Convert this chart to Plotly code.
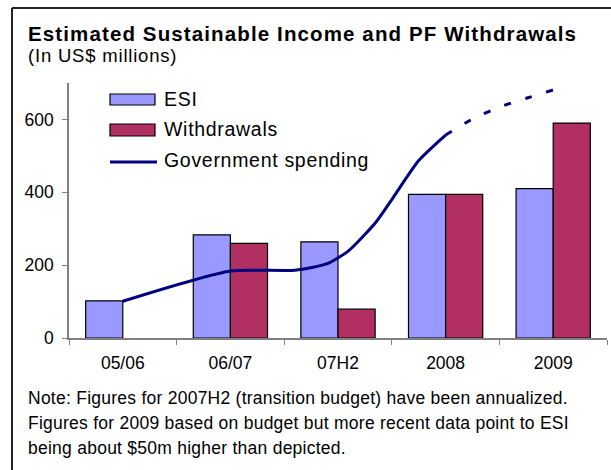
import plotly.graph_objects as go

# Periods and series values (US$ millions)
periods = ["05/06", "06/07", "07H2", "2008", "2009"]
esi = [102, 283, 264, 394, 410]
withdrawals = [None, 260, 79, 394, 590]

# Government spending, positioned along the period index (0 = 05/06)
gov_pos = [0.0, 1.0, 1.6, 1.9, 2.1, 2.35, 2.5, 2.75, 3.0]
gov_val = [101, 184, 186, 204, 240, 317, 380, 487, 557]
gov_proj_pos = [3.0, 3.25, 3.5, 3.75, 4.0]
gov_proj_val = [557, 601, 634, 658, 681]

y_ticks = [0, 200, 400, 600]

W, H = 611, 470
PX_L, PX_R, PX_T, PX_B = 69, 607, 83, 338
FONT = "Liberation Sans, Arial, sans-serif"
ESI_COLOR = "#9999FF"
WD_COLOR = "#B12F62"
GOV_COLOR = "#000080"


def px(x):
    return (x - PX_L) / (PX_R - PX_L)


def py(y):
    return (PX_B - y) / (PX_B - PX_T)


fig = go.Figure()
fig.add_trace(go.Bar(x=periods, y=esi, name="ESI", marker=dict(color=ESI_COLOR, line=dict(color="black", width=1.2))))
fig.add_trace(go.Bar(x=periods, y=withdrawals, name="Withdrawals", marker=dict(color=WD_COLOR, line=dict(color="black", width=1.2))))
fig.add_trace(go.Scatter(x=gov_pos, y=gov_val, xaxis="x2", mode="lines", name="Government spending",
                         line=dict(color=GOV_COLOR, width=3, shape="spline", smoothing=0.6)))
fig.add_trace(go.Scatter(x=gov_proj_pos, y=gov_proj_val, xaxis="x2", mode="lines", showlegend=False,
                         line=dict(color=GOV_COLOR, width=3, shape="spline", smoothing=0.6, dash="7px,15px")))

shapes = [
    # outer frame (left and top edges)
    dict(type="line", xref="paper", yref="paper", x0=px(12), x1=px(12), y0=py(8), y1=py(472),
         line=dict(color="#222", width=2)),
    dict(type="line", xref="paper", yref="paper", x0=px(12), x1=px(613), y0=py(8), y1=py(8),
         line=dict(color="#222", width=2)),
    # legend keys
    dict(type="rect", xref="paper", yref="paper", x0=px(110), x1=px(155), y0=py(94), y1=py(105),
         fillcolor=ESI_COLOR, line=dict(color="black", width=1.2)),
    dict(type="rect", xref="paper", yref="paper", x0=px(110), x1=px(155), y0=py(124), y1=py(136),
         fillcolor=WD_COLOR, line=dict(color="black", width=1.2)),
    dict(type="line", xref="paper", yref="paper", x0=px(110), x1=px(157), y0=py(162), y1=py(162),
         line=dict(color=GOV_COLOR, width=3)),
]


def label(text, x, y, size, bold=False, spacing=0.0):
    body = f'<span style="letter-spacing:{spacing}px">{text}</span>' if spacing else text
    if bold:
        body = f"<b>{body}</b>"
    return dict(text=body, xref="paper", yref="paper", x=px(x), y=py(y),
                xanchor="left", yanchor="middle", showarrow=False, font=dict(family=FONT, size=size, color="black"))


annotations = [
    label("Estimated Sustainable Income and PF Withdrawals", 26, 33, 20.5, bold=True, spacing=1.12),
    label("(In US$ millions)", 26, 56, 18.5, spacing=0.8),
    label("ESI", 162, 99, 19.5, spacing=0.7),
    label("Withdrawals", 162, 129, 19.5, spacing=0.7),
    label("Government spending", 162, 160, 19.5, spacing=0.7),
    label("Note: Figures for 2007H2 (transition budget) have been annualized.", 26, 398, 17.5, spacing=0.25),
    label("Figures for 2009 based on budget but more recent data point to ESI", 26, 423, 17.5, spacing=0.25),
    label("being about $50m higher than depicted.", 26, 448, 17.5, spacing=0.25),
]

fig.update_layout(
    width=W, height=H,
    margin=dict(l=PX_L, r=W - PX_R, t=PX_T, b=H - PX_B, pad=0),
    paper_bgcolor="white", plot_bgcolor="white",
    barmode="group", bargap=0.31, bargroupgap=0,
    showlegend=False,
    font=dict(family=FONT, size=17, color="black"),
    xaxis=dict(type="category", range=[-0.5, 4.5], tickson="boundaries", ticks="outside", ticklen=5,
               tickcolor="#808080", showline=True, linecolor="#808080", linewidth=1.5, showgrid=False,
               ticklabelstandoff=8, tickfont=dict(family=FONT, size=17.5, color="black")),
    xaxis2=dict(overlaying="x", range=[-0.5, 4.5], visible=False),
    yaxis=dict(range=[0, 700], tickvals=y_ticks, ticks="outside", ticklen=5, tickcolor="#808080",
               showline=True, linecolor="#808080", linewidth=1.5, showgrid=False, zeroline=False,
               ticklabelstandoff=5, tickfont=dict(family=FONT, size=17.5, color="black")),
    shapes=shapes,
    annotations=annotations,
)

fig.write_html("out.html")
